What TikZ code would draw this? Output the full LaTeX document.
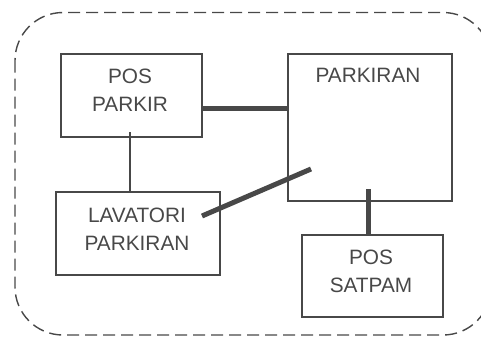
\documentclass[tikz,border=0pt]{standalone}
\usepackage{fontspec}
\setmainfont{Liberation Sans}
\definecolor{lc}{RGB}{72,72,72}
\definecolor{tc}{RGB}{72,72,72}
\tikzset{
  boxnode/.style={draw=lc, line width=1.6pt, anchor=north west, inner sep=0pt},
  lbl/.style={text=tc, align=center, inner sep=0pt, font=\fontsize{20.8pt}{28pt}\selectfont},
  thinline/.style={draw=lc, line width=1.8pt},
  thickline/.style={draw=lc, line width=5pt},
  outline/.style={draw=lc, line width=1.4pt, dash pattern=on 12pt off 6pt, rounded corners=48pt}
}
\begin{document}
\begin{tikzpicture}[x=1pt,y=-1pt]
\useasboundingbox (0,0) rectangle (481,338);
\clip (0,0) rectangle (481,338);
\draw[outline] (15,12.5) rectangle (491,335);
% boxes
\node[boxnode, minimum width=141pt, minimum height=83pt] (pp) at (60,53) {};
\node[boxnode, minimum width=164pt, minimum height=147pt] (park) at (287,53) {};
\node[boxnode, minimum width=164pt, minimum height=83pt] (lav) at (55,191) {};
\node[boxnode, minimum width=141pt, minimum height=82pt] (sat) at (301,234) {};
% labels
\node[lbl] (tpp) at (130,90) {POS\\PARKIR};
\node[lbl] (tpark) at (368,75.5) {PARKIRAN};
\node[lbl] (tlav) at (137,229) {LAVATORI\\PARKIRAN};
\node[lbl] (tsat) at (371,271) {POS\\SATPAM};
% connectors
\coordinate (h1) at (201,108);
\coordinate (d1) at (202,216);
\coordinate (d2) at (311,169);
\coordinate (v1) at (368,189);
\coordinate (u1) at (130,132);
\draw[thinline] (u1) -- (u1 |- lav.north);
\draw[thickline] (h1) -- (h1 -| park.west);
\draw[thickline] (d1) -- (d2);
\draw[thickline] (v1) -- (v1 |- sat.north);
\end{tikzpicture}
\end{document}
